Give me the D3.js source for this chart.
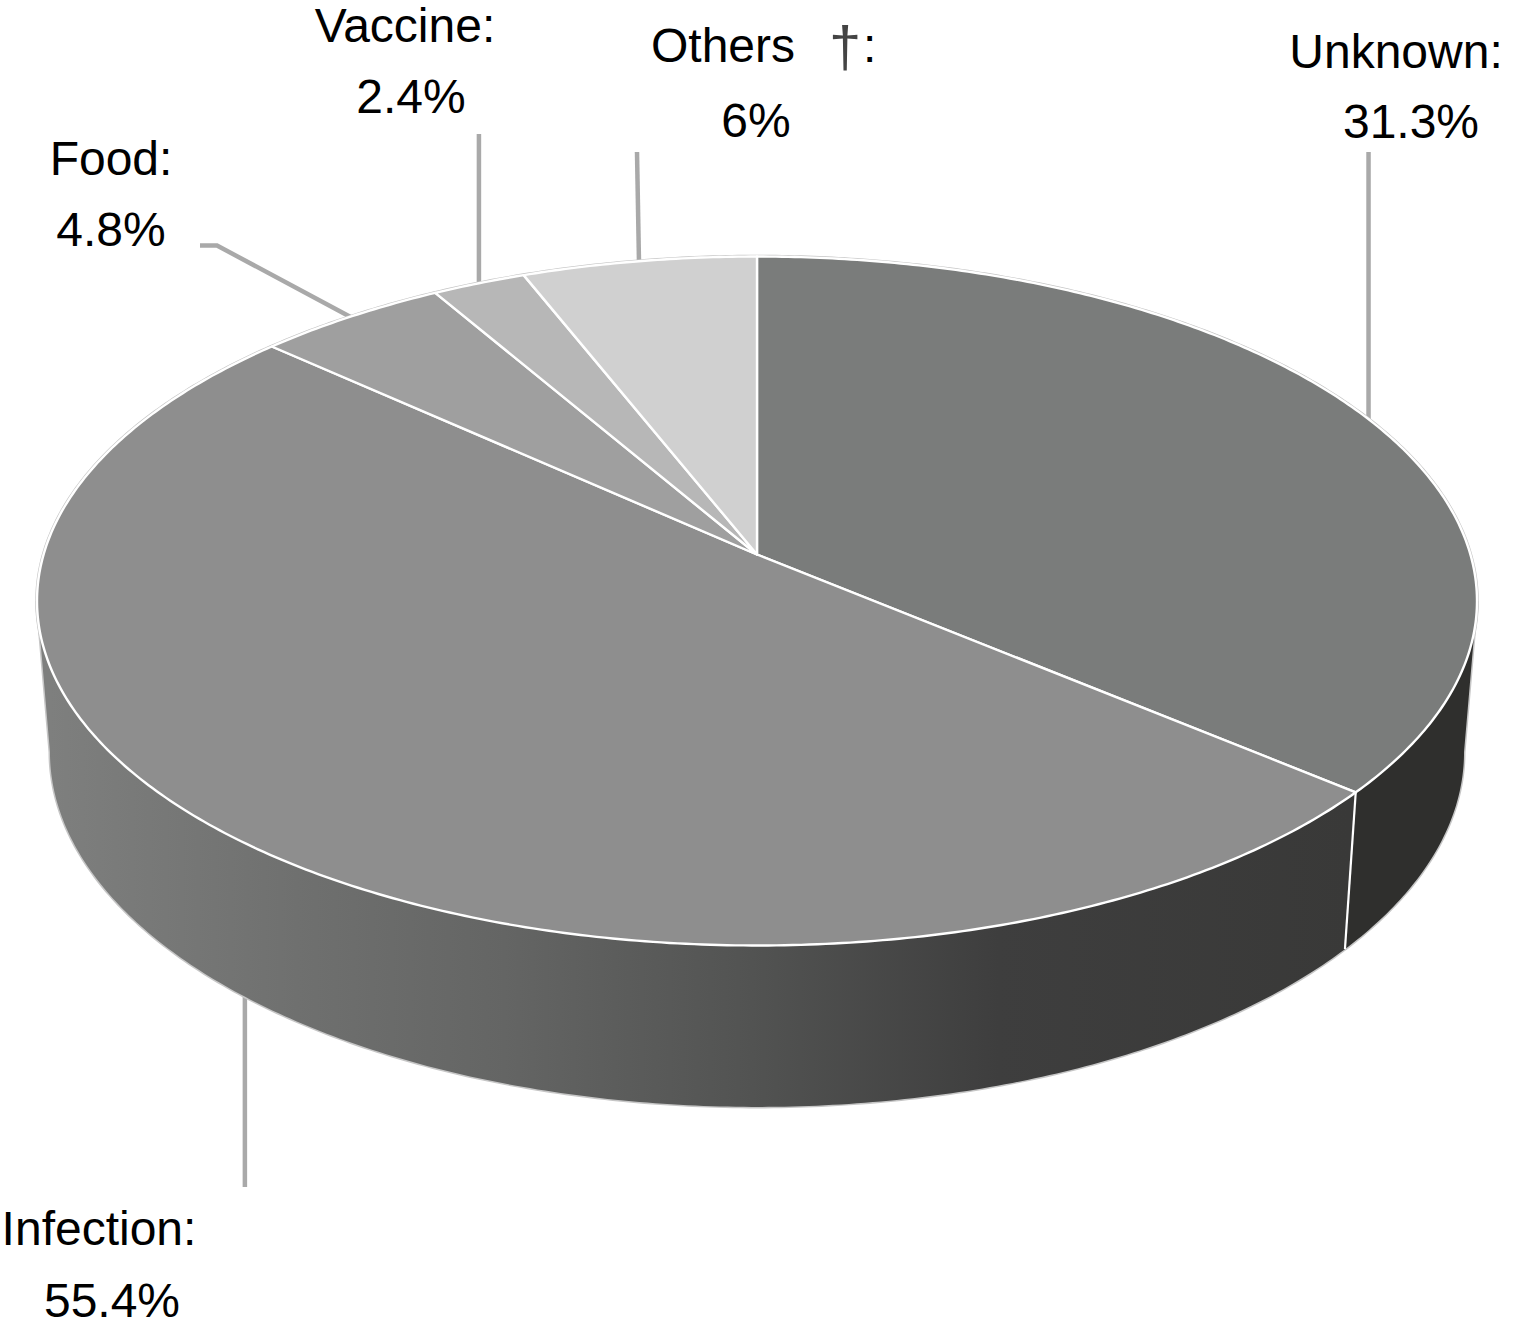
<!DOCTYPE html>
<html>
<head>
<meta charset="utf-8">
<style>
  html, body { margin: 0; padding: 0; background: #fff; }
  text { font-family: "Liberation Sans", Arial, sans-serif; font-size: 48px; fill: #000; }
</style>
<script src="https://d3js.org/d3.v7.min.js"></script>
</head>
<body>
<script>
// order is clockwise from 12 o'clock
const categories = ["Unknown", "Infection", "Food", "Vaccine", "Others"];
const printedLabels = ["31.3%", "55.4%", "4.8%", "2.4%", "6%"];
// size of each wedge as drawn in the picture (not the same as the printed labels)
const drawnShares = [36.1, 50.6, 4.9, 2.4, 6.0];
const topColors = ["#7a7c7b", "#8e8e8e", "#9f9f9f", "#b7b7b7", "#d0d0d0"];

const width = 1518, height = 1328;

// perspective of the top face
const apex = [757, 554.5];
const a = 713.4, b = 338.2, k = 0.135;
// the bottom rim is the top rim scaled and pushed down
const rimScaleX = 0.982, rimScaleY = 1.03, faceCy = 601.5, rimCy = 752.6;

const svg = d3.select("body").append("svg")
  .attr("width", width)
  .attr("height", height)
  .style("display", "block");

function topPoint(t) {
  const u = Math.sin(t), v = Math.cos(t), w = 1 + k * v;
  return [apex[0] + a * u / w, apex[1] - b * v / w];
}

function bottomPoint(t) {
  const p = topPoint(t);
  return [apex[0] + (p[0] - apex[0]) * rimScaleX, rimCy + (p[1] - faceCy) * rimScaleY];
}

function samples(t0, t1) {
  const n = Math.max(2, Math.ceil(Math.abs(t1 - t0) / 0.01));
  return d3.range(n + 1).map(i => t0 + (t1 - t0) * i / n);
}

const line = d3.line();
const pie = d3.pie().sort(null).value(d => d)(drawnShares);

function wallPath(t0, t1) {
  const ts = samples(t0, t1);
  return line(ts.map(topPoint).concat(ts.reverse().map(bottomPoint))) + "Z";
}

// silhouette tangents of the disc
const edgeRight = Math.acos(-k);
const edgeLeft = 2 * Math.PI - edgeRight;
const splitAngle = pie[0].endAngle;

// leaders go under the pie
const leaderColor = "#a9a9a9";
const mid = d => (d.startAngle + d.endAngle) / 2;
const leaderEnds = [
  { i: 0, pts: [[null, 152]] },
  { i: 1, pts: [[null, 1187]], bottom: true },
  { i: 2, pts: [[217, 245.5], [200, 245.5]] },
  { i: 3, pts: [[null, 134]] },
  { i: 4, pts: [[637, 152]] }
];
leaderEnds.forEach(l => {
  const start = (l.bottom ? bottomPoint : topPoint)(mid(pie[l.i]));
  const pts = [start].concat(l.pts.map(p => [p[0] === null ? start[0] : p[0], p[1]]));
  svg.append("path")
    .attr("d", line(pts))
    .attr("fill", "none")
    .attr("stroke", leaderColor)
    .attr("stroke-width", 4.5);
});

// front wall shading, banded left to right
const gradient = svg.append("defs").append("linearGradient")
  .attr("id", "wallShade")
  .attr("gradientUnits", "userSpaceOnUse")
  .attr("x1", 50).attr("x2", 1350).attr("y1", 0).attr("y2", 0);
[[0, "#7e7f7e"], [0.19, "#6f706f"], [0.35, "#646564"], [0.54, "#525352"],
 [0.73, "#3e3e3e"], [1, "#393938"]].forEach(s => {
  gradient.append("stop").attr("offset", s[0]).attr("stop-color", s[1]);
});

// thin grey contour outside the white edge
svg.append("path")
  .attr("d", wallPath(edgeRight, edgeLeft))
  .attr("fill", "#888")
  .attr("stroke", "#c6c6c6")
  .attr("stroke-width", 3);
svg.append("path")
  .attr("d", line(samples(0, 2 * Math.PI).map(topPoint)) + "Z")
  .attr("fill", "#888")
  .attr("stroke", "#c6c6c6")
  .attr("stroke-width", 3.6);

svg.append("path")
  .attr("d", wallPath(edgeRight, splitAngle))
  .attr("fill", "#2f2f2d");
svg.append("path")
  .attr("d", wallPath(splitAngle, edgeLeft))
  .attr("fill", "url(#wallShade)");
svg.append("path")
  .attr("d", line([topPoint(splitAngle), bottomPoint(splitAngle)]))
  .attr("stroke", "#fff")
  .attr("stroke-width", 2.2);

// top face
svg.append("g").selectAll("path")
  .data(pie)
  .join("path")
  .attr("d", d => line([apex].concat(samples(d.startAngle, d.endAngle).map(topPoint))) + "Z")
  .attr("fill", (d, i) => topColors[i])
  .attr("stroke", "#fff")
  .attr("stroke-width", 2.4)
  .attr("stroke-linejoin", "round");

// labels: name line then value line
const labelLayout = [
  { nameX: 1396, nameY: 68, valueX: 1411, valueY: 138 },
  { nameX: 99, nameY: 1245, valueX: 112, valueY: 1317 },
  { nameX: 111, nameY: 175, valueX: 111, valueY: 246 },
  { nameX: 405, nameY: 42, valueX: 411, valueY: 113 },
  { nameX: 723, nameY: 62, valueX: 756, valueY: 137 }
];

categories.forEach((c, i) => {
  const pos = labelLayout[i];
  if (c === "Others") {
    svg.append("text").attr("x", pos.nameX).attr("y", pos.nameY)
      .attr("text-anchor", "middle").text(c);
    svg.append("text").attr("x", 829).attr("y", pos.nameY + 5)
      .style("fill", "#444").style("font-size", "58px").text("\u2020");
    svg.append("text").attr("x", 863).attr("y", pos.nameY).text(":");
  } else {
    svg.append("text").attr("x", pos.nameX).attr("y", pos.nameY)
      .attr("text-anchor", "middle").text(c + ":");
  }
  svg.append("text").attr("x", pos.valueX).attr("y", pos.valueY)
    .attr("text-anchor", "middle").text(printedLabels[i]);
});
</script>
</body>
</html>
